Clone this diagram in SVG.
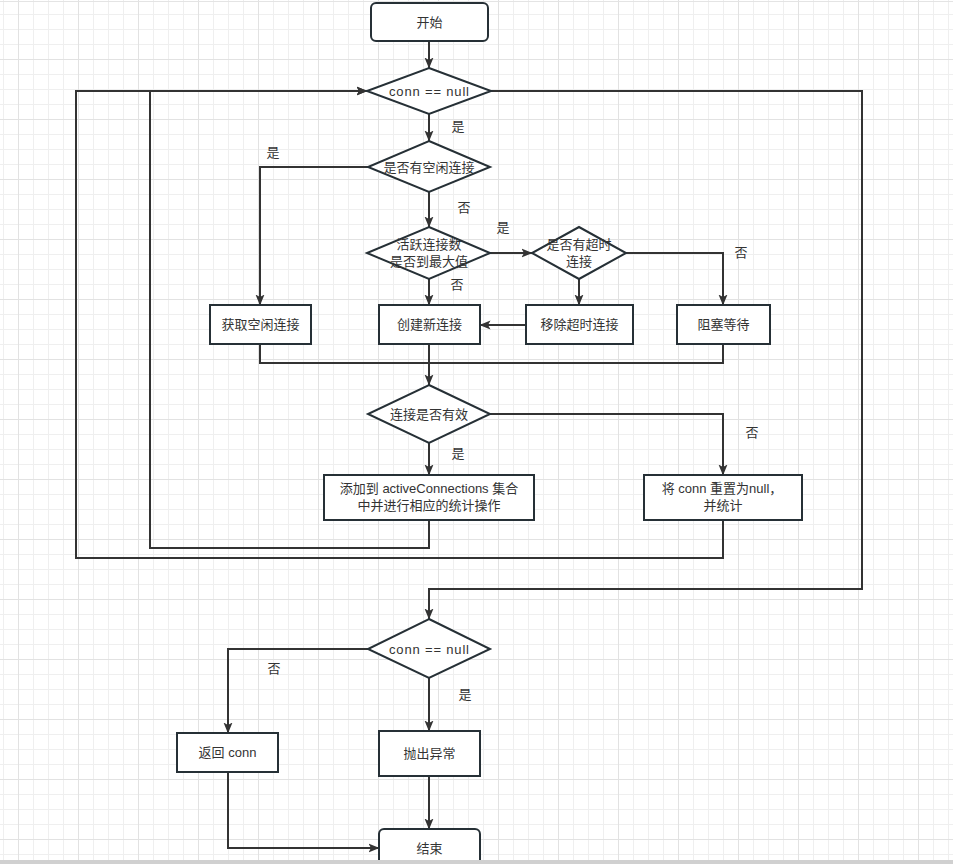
<svg xmlns="http://www.w3.org/2000/svg" width="953" height="864" viewBox="0 0 953 864">
<defs>
<pattern id="grid" patternUnits="userSpaceOnUse" x="18" y="-1" width="60" height="60">
<rect x="0" y="0" width="60" height="60" fill="#ffffff"/>
<g fill="#efefef">
<rect x="15" y="0" width="1" height="60"/><rect x="30" y="0" width="1" height="60"/><rect x="45" y="0" width="1" height="60"/>
<rect x="0" y="15" width="60" height="1"/><rect x="0" y="30" width="60" height="1"/><rect x="0" y="45" width="60" height="1"/>
</g>
<g fill="#e2e2e2">
<rect x="0" y="0" width="1" height="60"/><rect x="0" y="0" width="60" height="1"/>
</g>
</pattern>
<marker id="arrow" markerUnits="userSpaceOnUse" markerWidth="11" markerHeight="10" viewBox="0 0 11 10" refX="10.5" refY="5" orient="auto">
<path d="M0,0.5 L11,5 L0,9.5 L2.5,5 Z" fill="#333333"/>
</marker>
<style>
.node{fill:#ffffff;stroke:#263036;stroke-width:2}
.t{font-family:"Liberation Sans","Noto Sans CJK SC",sans-serif;font-size:13px;fill:#333333;text-anchor:middle}
.conn path{fill:none;stroke:#333333;stroke-width:2}
.conn path.a{marker-end:url(#arrow)}
</style>
</defs>
<rect x="0" y="0" width="953" height="864" fill="url(#grid)"/>
<rect x="0" y="1" width="953" height="1" fill="#e4e4e4"/>

<g id="connectors" class="conn">
<path class="a" d="M429,41 V68"/>
<path class="a" d="M429,114 V141"/>
<path class="a" d="M368,167 H260 V305"/>
<path class="a" d="M429,192 V227"/>
<path class="a" d="M490,253 H532"/>
<path class="a" d="M429,279 V305"/>
<path class="a" d="M579,279 V305"/>
<path class="a" d="M626,253 H723 V305"/>
<path class="a" d="M526,325 H480"/>
<path d="M260,344 V363 H723 V344"/>
<path class="a" d="M429,344 V385"/>
<path class="a" d="M490,414 H723 V475"/>
<path class="a" d="M429,443 V475"/>
<path class="a" d="M723,520 V558 H76 V91 H367"/>
<path class="a" d="M429,520 V548 H150 V91 H367"/>
<path class="a" d="M490,91 H862 V589 H429 V619"/>
<path class="a" d="M368,649 H228 V733"/>
<path class="a" d="M429,678 V731"/>
<path class="a" d="M429,776 V829"/>
<path class="a" d="M228,772 V848 H379"/>
</g>

<g id="labels">
<text class="t" x="458" y="131">是</text>
<text class="t" x="273" y="157">是</text>
<text class="t" x="464" y="212">否</text>
<text class="t" x="503" y="232">是</text>
<text class="t" x="741" y="257">否</text>
<text class="t" x="457" y="289">否</text>
<text class="t" x="752" y="437">否</text>
<text class="t" x="458" y="458">是</text>
<text class="t" x="274" y="673">否</text>
<text class="t" x="465" y="699">是</text>
</g>

<g id="start"><rect class="node" x="371" y="3" width="117" height="38" rx="5"/><text class="t" x="429.5" y="26.5">开始</text></g>
<g id="check-null-1"><polygon class="node" points="429,68 491,91 429,114 367,91"/><text class="t" x="429" y="95.5" textLength="80" lengthAdjust="spacing">conn == null</text></g>
<g id="check-idle"><polygon class="node" points="429,141 490,167 429,192 368,167"/><text class="t" x="429" y="171.5">是否有空闲连接</text></g>
<g id="check-max"><polygon class="node" points="429,227 490,253 429,279 367,253"/><text class="t" x="429" y="249">活跃连接数</text><text class="t" x="429" y="266">是否到最大值</text></g>
<g id="check-timeout"><polygon class="node" points="579,227 626,253 579,279 532,253"/><text class="t" x="579" y="249">是否有超时</text><text class="t" x="579" y="266">连接</text></g>
<g id="get-idle"><rect class="node" x="210" y="305" width="101" height="39"/><text class="t" x="260.5" y="329">获取空闲连接</text></g>
<g id="create-new"><rect class="node" x="379" y="305" width="101" height="39"/><text class="t" x="429.5" y="329">创建新连接</text></g>
<g id="remove-timeout"><rect class="node" x="526" y="305" width="107" height="39"/><text class="t" x="579.5" y="329">移除超时连接</text></g>
<g id="block-wait"><rect class="node" x="677" y="305" width="93" height="39"/><text class="t" x="723.5" y="329">阻塞等待</text></g>
<g id="check-valid"><polygon class="node" points="429,385 490,414 429,443 368,414"/><text class="t" x="429" y="418.5">连接是否有效</text></g>
<g id="add-active"><rect class="node" x="324" y="475" width="210" height="45"/><text class="t" x="429" y="493">添加到 activeConnections 集合</text><text class="t" x="429" y="510">中并进行相应的统计操作</text></g>
<g id="reset-null"><rect class="node" x="644" y="475" width="158" height="45"/><text class="t" x="722" y="493">将 conn 重置为null，</text><text class="t" x="723" y="510">并统计</text></g>
<g id="check-null-2"><polygon class="node" points="429,619 490,649 429,678 368,649"/><text class="t" x="429" y="653.5" textLength="80" lengthAdjust="spacing">conn == null</text></g>
<g id="return-conn"><rect class="node" x="177" y="733" width="101" height="39"/><text class="t" x="227.5" y="757">返回 conn</text></g>
<g id="throw"><rect class="node" x="379" y="731" width="101" height="45"/><text class="t" x="429.5" y="758">抛出异常</text></g>
<g id="end"><rect class="node" x="379" y="829" width="101" height="40" rx="5"/><text class="t" x="429.5" y="852.5">结束</text></g>

<rect x="0" y="860" width="953" height="4" fill="#d0d0d0"/>
</svg>
